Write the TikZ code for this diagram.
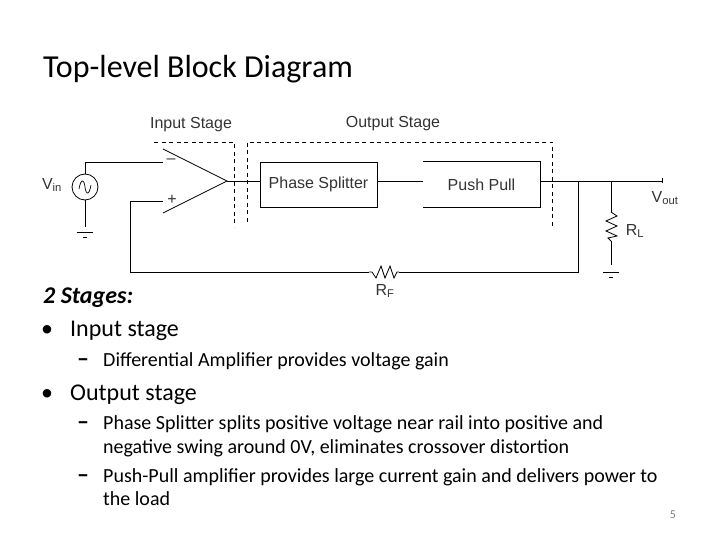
\documentclass[tikz,border=0pt]{standalone}
\usepackage{fontspec}
\setmainfont{Carlito}
\newfontfamily\schemfont{Liberation Sans}
\definecolor{schemtext}{HTML}{333333}
\definecolor{pagenum}{HTML}{7F7F7F}
\tikzset{
  wire/.style={draw=black, line width=0.8pt},
  stagedash/.style={draw=black, line width=0.7pt, dash pattern=on 4pt off 3.5pt},
  schemlabel/.style={anchor=center, inner sep=0pt, text=schemtext, font=\schemfont\fontsize{16}{18}\selectfont},
  bodyline/.style={anchor=base west, inner sep=0pt, font=\fontsize{20}{24}\selectfont},
  itemline/.style={anchor=base west, inner sep=0pt, font=\fontsize{24}{28}\selectfont}
}
\begin{document}
\begin{tikzpicture}[x=1pt,y=-1pt]
  \useasboundingbox (0,0) rectangle (720,540);

  % Title
  \node[anchor=base west, inner sep=0pt, font=\fontsize{32}{38}\selectfont] (title) at (43,78) {Top-level Block Diagram};

  % Stage labels
  \node[schemlabel] (inlabel) at (191,125) {Input Stage};
  \node[schemlabel] (outlabel) at (393,124) {Output Stage};

  % Stage boundaries
  \coordinate (inA) at (154,142);
  \coordinate (inB) at (234,142);
  \coordinate (inC) at (234,227);
  \coordinate (outA) at (247,222);
  \coordinate (outB) at (247,142);
  \coordinate (outC) at (552,142);
  \coordinate (outD) at (552,227);
  \draw[stagedash] (inA) -- (inB) -- (inC);
  \draw[stagedash] (outA) -- (outB) -- (outC) -- (outD);

  % Input source
  \node[draw, circle, wire, minimum size=26pt, inner sep=0pt] (source) at (85,187) {};
  \draw[wire, line width=0.7pt] (79,189) .. controls (81,178) and (84,179) .. (85,187) .. controls (86,195) and (89,196) .. (91,185);
  \node[schemlabel] (vin) at (52,185) {V\textsubscript{in}};

  % Amplifier
  \coordinate (ampTop) at (163,149);
  \coordinate (ampTip) at (227,181);
  \coordinate (ampBot) at (163,213);
  \coordinate (ampMinus) at (163,162);
  \coordinate (ampPlus) at (163,201);
  \draw[wire] (ampTop) -- (ampTip) -- (ampBot);
  \node[schemlabel] (minus) at (171,161) {–};
  \node[schemlabel] (plus) at (172,200) {+};

  % Blocks
  \node[draw, wire, rectangle, minimum width=117pt, minimum height=45pt, inner sep=0pt, schemlabel, anchor=center] (phase) at (318.5,184.5) {Phase Splitter};
  \node[minimum width=117pt, minimum height=45pt, inner sep=0pt, schemlabel] (pushpull) at (481.5,184.5) {Push Pull};
  \draw[wire] (pushpull.north west) -- (pushpull.north east) -- (pushpull.south east) -- (pushpull.south west);

  % Named points on the wires
  \coordinate (srcIn) at (85,162);
  \coordinate (phaseIn) at (260,181);
  \coordinate (phaseOut) at (377,181);
  \coordinate (pushIn) at (423,181);
  \coordinate (pushOut) at (540,181);
  \coordinate (fbNode) at (578,181);
  \coordinate (loadNode) at (611,181);
  \coordinate (outEnd) at (662,181);
  \coordinate (fbLow) at (578,272);
  \coordinate (fbLeft) at (130,272);
  \coordinate (fbUp) at (130,201);

  % Source wiring
  \coordinate (gndA) at (85,227);
  \draw[wire] (source.north) -- (srcIn) -- (ampMinus);
  \draw[wire] (source.south) -- (gndA);
  \draw[wire] (ampTip) -- (phaseIn);
  \draw[wire] (phaseOut) -- (pushIn);
  \draw[wire] (pushOut) -- (outEnd);
  \draw[wire] (662,178.5) -- (662,183.5);

  % Feedback with resistor
  \coordinate (rfL) at (369,272);
  \coordinate (rfR) at (399,272);
  \draw[wire] (ampPlus) -- (fbUp) -- (fbLeft) -- (rfL);
  \draw[wire] (rfL) -- (372,272) -- (376,278) -- (381,266) -- (385,278) -- (390,266) -- (394,278) -- (397,272) -- (rfR);
  \draw[wire] (rfR) -- (fbLow) -- (fbNode);
  \node[schemlabel] (rf) at (385,291) {R\textsubscript{F}};

  % Load resistor
  \coordinate (rlT) at (611,212);
  \coordinate (rlB) at (611,241);
  \coordinate (gndB) at (611,265);
  \draw[wire] (loadNode) -- (rlT);
  \draw[wire] (rlT) -- (617,216) -- (606,221) -- (617,226) -- (606,231) -- (617,236) -- (608,238) -- (rlB);
  \draw[wire] (rlB) -- (gndB);
  \node[schemlabel] (rl) at (635,231) {R\textsubscript{L}};
  \node[schemlabel] (vout) at (665,198) {V\textsubscript{out}};

  % Grounds
  \foreach \x/\y in {85/232, 611/272} {
    \draw[wire] (\x-8,\y) -- (\x+8,\y);
    \draw[wire] (\x-2,\y+5.5) -- (\x+2,\y+5.5);
  }

  % Text
  \node[itemline, font=\fontsize{24}{28}\selectfont\bfseries\itshape] (stages) at (43,303) {2 Stages:};
  \foreach \i/\y/\t in {1/336/Input stage, 2/400/Output stage} {
    \node[itemline] (bullet\i) at (41,\y) {•};
    \node[itemline] (item\i) at (70,\y) {\t};
  }
  \foreach \i/\y in {1/366, 2/429, 3/482} {
    \node[bodyline, font=\fontsize{24}{28}\selectfont] (dash\i) at (77,\y) {\textbf{–}};
  }
  \node[bodyline] (sub1) at (103,366) {Differential Amplifier provides voltage gain};
  \node[bodyline] (sub2) at (103,429) {Phase Splitter splits positive voltage near rail into positive and};
  \node[bodyline] (sub3) at (103,453) {negative swing around 0V, eliminates crossover distortion};
  \node[bodyline] (sub4) at (103,482) {Push-Pull amplifier provides large current gain and delivers power to};
  \node[bodyline] (sub5) at (103,505) {the load};

  % Slide number
  \node[anchor=base, inner sep=0pt, text=pagenum, font=\fontsize{12}{14}\selectfont] (pageno) at (673,518) {5};
\end{tikzpicture}
\end{document}
